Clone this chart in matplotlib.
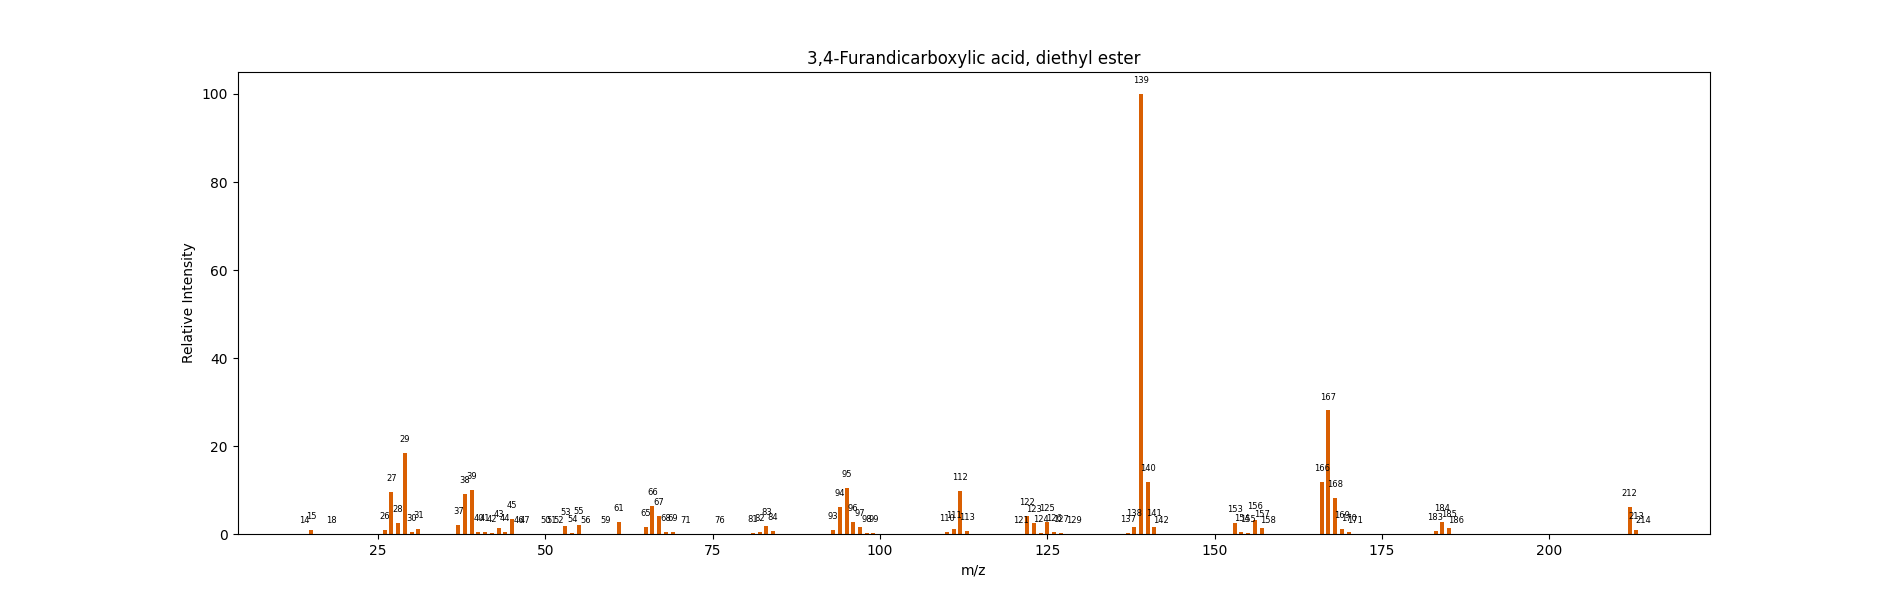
import matplotlib
matplotlib.use("Agg")
import matplotlib.pyplot as plt

mz = [14, 15, 18, 26, 27, 28, 29, 30, 31, 37, 38, 39, 40, 41, 42, 43, 44, 45, 46, 47,
      50, 51, 52, 53, 54, 55, 56, 59, 61, 65, 66, 67, 68, 69, 71, 76, 81, 82, 83, 84,
      93, 94, 95, 96, 97, 98, 99, 110, 111, 112, 113, 121, 122, 123, 124, 125, 126, 127, 129,
      137, 138, 139, 140, 141, 142, 153, 154, 155, 156, 157, 158,
      166, 167, 168, 169, 170, 171, 183, 184, 185, 186, 212, 213, 214]
intensity = [0.05, 0.9, 0.05, 0.9, 9.5, 2.5, 18.5, 0.45, 1.1, 2.0, 9.1, 10.0, 0.45, 0.45, 0.2, 1.4, 0.45, 3.4, 0.05, 0.05,
             0.05, 0.05, 0.05, 1.9, 0.3, 2.1, 0.05, 0.05, 2.7, 1.6, 6.4, 4.2, 0.5, 0.5, 0.05, 0.05, 0.3, 0.5, 1.8, 0.75,
             1.0, 6.1, 10.4, 2.8, 1.7, 0.3, 0.3, 0.5, 1.2, 9.8, 0.75, 0.05, 4.2, 2.5, 0.3, 2.8, 0.5, 0.3, 0.05,
             0.2, 1.6, 100.0, 11.8, 1.6, 0.05, 2.5, 0.45, 0.2, 3.2, 1.4, 0.05,
             11.8, 28.1, 8.2, 1.1, 0.45, 0.05, 0.7, 2.7, 1.4, 0.05, 6.2, 1.0, 0.05]

fig, ax = plt.subplots(figsize=(19, 6), dpi=100)
bars = ax.bar(mz, intensity, width=0.6, color='#d95f02')
for m, h in zip(mz, intensity):
    ax.text(m, h + 2, str(m), ha='center', va='bottom', fontsize=6)

ax.set_title('3,4-Furandicarboxylic acid, diethyl ester')
ax.set_xlabel('m/z')
ax.set_ylabel('Relative Intensity')
ax.set_xlim(4, 224)
ax.set_ylim(0, 105)
fig.savefig('out.png')
